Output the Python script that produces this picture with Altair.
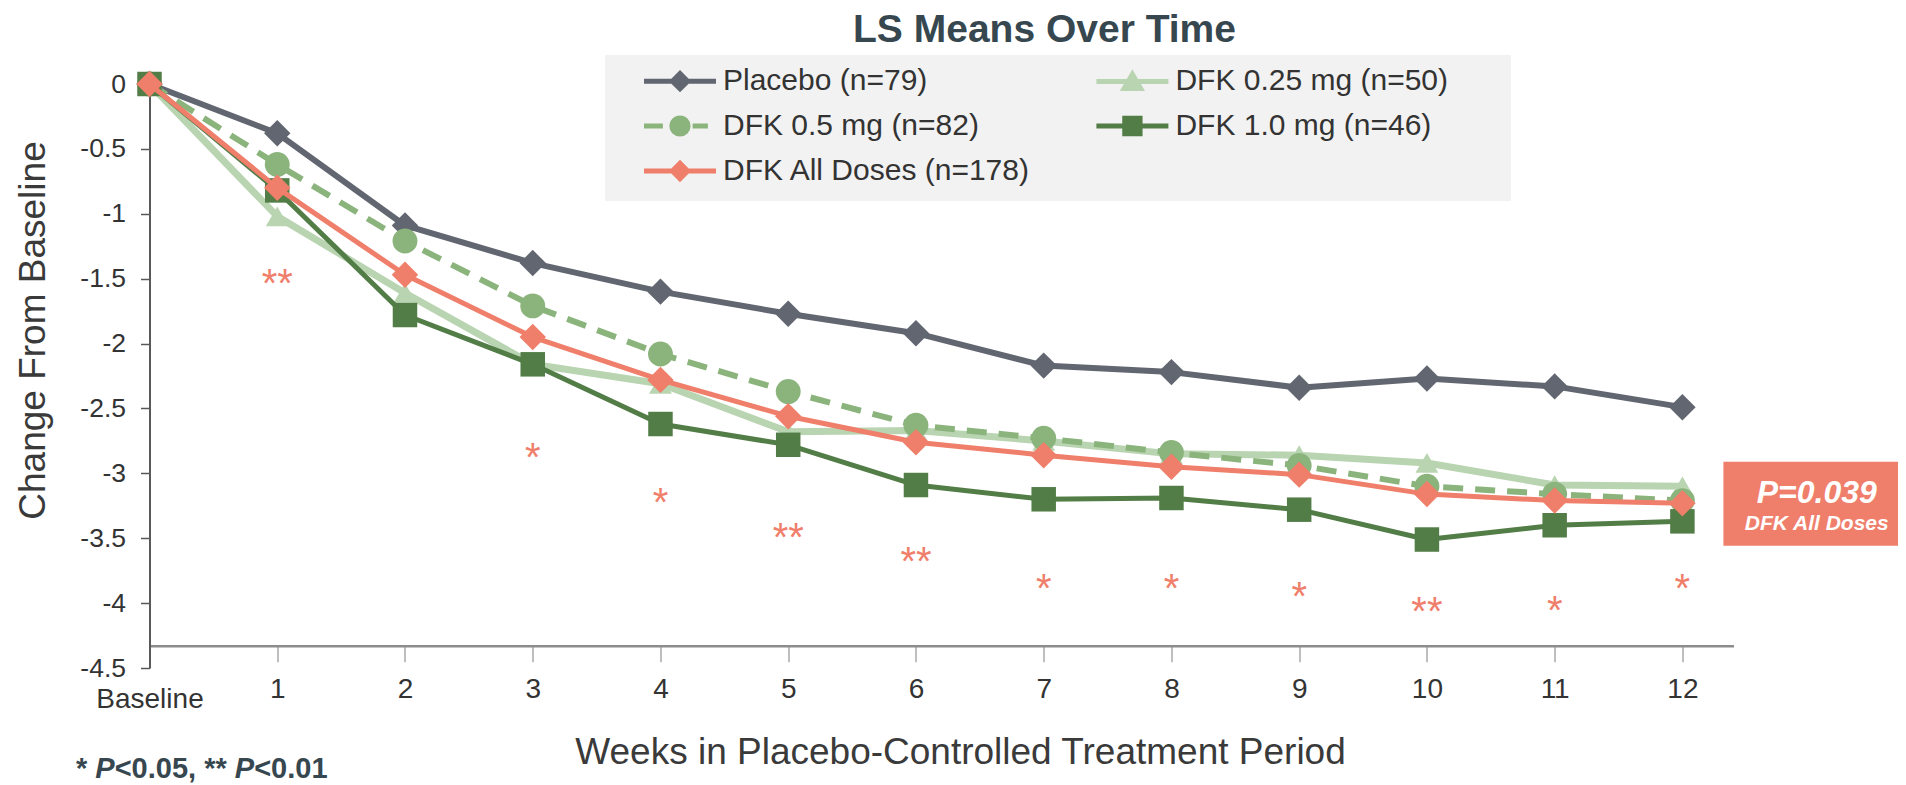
import altair as alt
import pandas as pd

# ---------------- data ----------------
weeks = list(range(0, 13))
series_names = [
    "Placebo (n=79)",
    "DFK 0.25 mg (n=50)",
    "DFK 0.5 mg (n=82)",
    "DFK 1.0 mg (n=46)",
    "DFK All Doses (n=178)",
]
placebo = [0, -0.38, -1.09, -1.38, -1.60, -1.77, -1.92, -2.17, -2.22, -2.34, -2.27, -2.33, -2.49]
dfk_025 = [0, -1.02, -1.61, -2.16, -2.31, -2.68, -2.67, -2.75, -2.85, -2.86, -2.92, -3.09, -3.10]
dfk_05 = [0, -0.62, -1.21, -1.71, -2.08, -2.37, -2.63, -2.73, -2.84, -2.94, -3.10, -3.16, -3.21]
dfk_10 = [0, -0.82, -1.78, -2.16, -2.62, -2.78, -3.09, -3.20, -3.19, -3.28, -3.51, -3.40, -3.37]
dfk_all = [0, -0.80, -1.47, -1.95, -2.28, -2.56, -2.76, -2.86, -2.95, -3.01, -3.16, -3.21, -3.23]
series_values = [placebo, dfk_025, dfk_05, dfk_10, dfk_all]

sig_weeks = [1, 3, 4, 5, 6, 7, 8, 9, 10, 11, 12]
sig_marks = ["**", "*", "*", "**", "**", "*", "*", "*", "**", "*", "*"]
sig_levels = [-1.48, -2.82, -3.17, -3.44, -3.62, -3.83, -3.83, -3.89, -4.01, -4.00, -3.83]

x_tick_values = list(range(0, 13))
y_tick_values = [0, -0.5, -1, -1.5, -2, -2.5, -3, -3.5, -4, -4.5]
x_max = 12.4

chart_title = "LS Means Over Time"
x_title = "Weeks in Placebo-Controlled Treatment Period"
y_title = "Change From Baseline"
baseline_label = "Baseline"
p_value_text = "P=0.039"
p_value_group = "DFK All Doses"
footnote_parts = ["* ", "P", "<0.05, ** ", "P", "<0.01"]
footnote_italic = [False, True, False, True, False]

# ---------------- styles ----------------
FONT = "Liberation Sans"
colors = ["#616670", "#B9D4B1", "#8BB47D", "#527D47", "#EF7E6A"]
line_widths = [6, 7, 6, 5, 5]
line_dashes = [None, None, [20, 12], None, None]
point_shapes = ["diamond", "triangle-up", "circle", "square", "diamond"]
point_sizes = [700, 520, 620, 600, 700]
legend_paths = [
    "M-4,0H4M0,-0.85L0.85,0L0,0.85L-0.85,0Z",
    "M-4,0H4M0,-0.8L0.92,0.8L-0.92,0.8Z",
    "M-4,0H-1.9M1.4,0H3.1M-0.9,0A0.9,0.9 0 1,0 0.9,0A0.9,0.9 0 1,0 -0.9,0Z",
    "M-4,0H4M-0.85,-0.85H0.85V0.85H-0.85Z",
    "M-4,0H4M0,-0.85L0.85,0L0,0.85L-0.85,0Z",
]
SALMON = colors[4]
TEXT = "#333333"
TITLE_COLOR = "#37474F"

# ---------------- tables ----------------
rows = []
for name, vals in zip(series_names, series_values):
    for w, v in zip(weeks, vals):
        rows.append({"week": w, "value": v, "series": name})
df = pd.DataFrame(rows)

sig_df = pd.DataFrame({"week": sig_weeks, "value": sig_levels, "mark": sig_marks})
pbox_df = pd.DataFrame({"week": [weeks[-1]], "value": [dfk_all[-1]]})
one_row = pd.DataFrame({"k": [0]})

# ---------------- axes ----------------
x_axis = alt.Axis(
    values=x_tick_values,
    labelExpr=f"datum.value === 0 ? '{baseline_label}' : datum.label",
    labelFlush=False,
    labelOverlap=False,
    labelFontSize=28,
    labelColor=TEXT,
    labelPadding={"condition": {"test": "datum.value === 0", "value": 24}, "value": 14},
    tickSize=16,
    tickColor="#7F7F7F",
    tickWidth=1,
    domainColor="#8C8C8C",
    domainWidth=2.5,
    offset=-22.3,
    grid=False,
    title=x_title,
    titleFontSize=37,
    titleFontWeight="normal",
    titleColor="#3A3A3A",
    titleX=810.5,
    titleY=117.3,
    titleAlign="center",
    titleBaseline="alphabetic",
)
y_axis = alt.Axis(
    values=y_tick_values,
    labelExpr="'' + datum.value",
    labelFlush=False,
    labelFontSize=26.5,
    labelColor=TEXT,
    labelPadding=15,
    tickSize=9,
    tickColor="#595959",
    tickWidth=1.5,
    domainColor="#595959",
    domainWidth=2,
    grid=False,
    title=y_title,
    titleFontSize=37,
    titleFontWeight="normal",
    titleColor="#3A3A3A",
    titleAngle=270,
    titleX=-105.5,
    titleY=246,
    titleAlign="center",
    titleBaseline="alphabetic",
)

X = alt.X("week:Q", scale=alt.Scale(domain=[0, x_max], nice=False, zero=False), axis=x_axis)
Y = alt.Y("value:Q", scale=alt.Scale(domain=[y_tick_values[-1], y_tick_values[0]], nice=False, zero=False), axis=y_axis)

layers = []

# series: line + markers, drawn in legend order
for i, name in enumerate(series_names):
    sub = alt.Chart(df).transform_filter(alt.datum.series == name)
    line_kw = dict(color=colors[i], strokeWidth=line_widths[i], strokeJoin="round")
    if line_dashes[i] is not None:
        line_kw["strokeDash"] = line_dashes[i]
    layers.append(sub.mark_line(**line_kw).encode(x=X, y=Y))
    layers.append(
        sub.mark_point(
            shape=point_shapes[i], size=point_sizes[i], filled=True,
            color=colors[i], opacity=1, strokeWidth=0,
        ).encode(x=X, y=Y)
    )

# significance asterisks
layers.append(
    alt.Chart(sig_df).mark_text(
        fontSize=40, color=SALMON, align="center", baseline="alphabetic", dy=21, font=FONT,
    ).encode(x=X, y=Y, text="mark:N")
)

# p-value box anchored at the last DFK All Doses point
layers.append(
    alt.Chart(pbox_df).mark_point(
        shape="M-1,-0.4615H1V0.4615H-1Z", size=33124, filled=True, color=SALMON,
        opacity=1, strokeWidth=0, xOffset=132, yOffset=0.5,
    ).encode(x=X, y=Y)
)
layers.append(
    alt.Chart(pbox_df).mark_text(
        text=p_value_text, fontSize=32, fontWeight="bold", fontStyle="italic", color="white",
        align="center", baseline="alphabetic", dx=134.3, dy=-0.5, font=FONT,
    ).encode(x=X, y=Y)
)
layers.append(
    alt.Chart(pbox_df).mark_text(
        text=p_value_group, fontSize=21, fontWeight="bold", fontStyle="italic", color="white",
        align="center", baseline="alphabetic", dx=134.3, dy=26.8, font=FONT,
    ).encode(x=X, y=Y)
)

# legend (line + marker symbols) from an empty layer with explicit scale domains
NBSP = "\u00a0"
leg = alt.Legend(
    title=" ", titleOrient="left", titleFontSize=1, titlePadding=28,
    orient="none", legendX=455.5, legendY=-29, direction="horizontal",
    columns=2, columnPadding=5.4, rowPadding=8, padding=11,
    fillColor="#F2F2F2", strokeColor="#F2F2F2",
    symbolSize=324, symbolStrokeWidth=5, symbolOffset=21, labelOffset=28,
    labelFont=FONT, labelFontSize=30, labelColor=TEXT, labelLimit=0,
    labelExpr="datum.label + '" + NBSP * 6 + "\u200b'",
)
layers.append(
    alt.Chart(df).transform_filter("false").mark_point(filled=True, opacity=1, strokeWidth=5).encode(
        x=X, y=Y,
        shape=alt.Shape("series:N", scale=alt.Scale(domain=series_names, range=legend_paths), legend=leg),
        fill=alt.Fill("series:N", scale=alt.Scale(domain=series_names, range=colors), legend=leg),
        stroke=alt.Stroke("series:N", scale=alt.Scale(domain=series_names, range=colors), legend=leg),
    )
)

# footnote
fn_size = 29
fn_adv = [0.667, 0.667, 4.142, 0.667]
fn_x = [-73.5]
for a in fn_adv:
    fn_x.append(fn_x[-1] + a * fn_size)
for part, italic, px in zip(footnote_parts, footnote_italic, fn_x):
    layers.append(
        alt.Chart(one_row).mark_text(
            text=part, fontSize=fn_size, fontWeight="bold",
            fontStyle="italic" if italic else "normal", color=TITLE_COLOR,
            align="left", baseline="alphabetic", font=FONT,
        ).encode(x=alt.value(px), y=alt.value(694))
    )

chart = (
    alt.layer(*layers)
    .properties(
        width=1584,
        height=584,
        title=alt.TitleParams(
            chart_title, fontSize=39, fontWeight="bold", color=TITLE_COLOR, font=FONT,
            anchor="middle", dx=103, offset=4.4,
        ),
        autosize=alt.AutoSizeParams(type="none"),
        padding={"left": 141.5, "top": 76, "right": 164.5, "bottom": 117},
    )
    .configure(font=FONT)
    .configure_view(stroke="transparent")
)

chart.save("out.html", embed_options={"renderer": "svg", "actions": False})
